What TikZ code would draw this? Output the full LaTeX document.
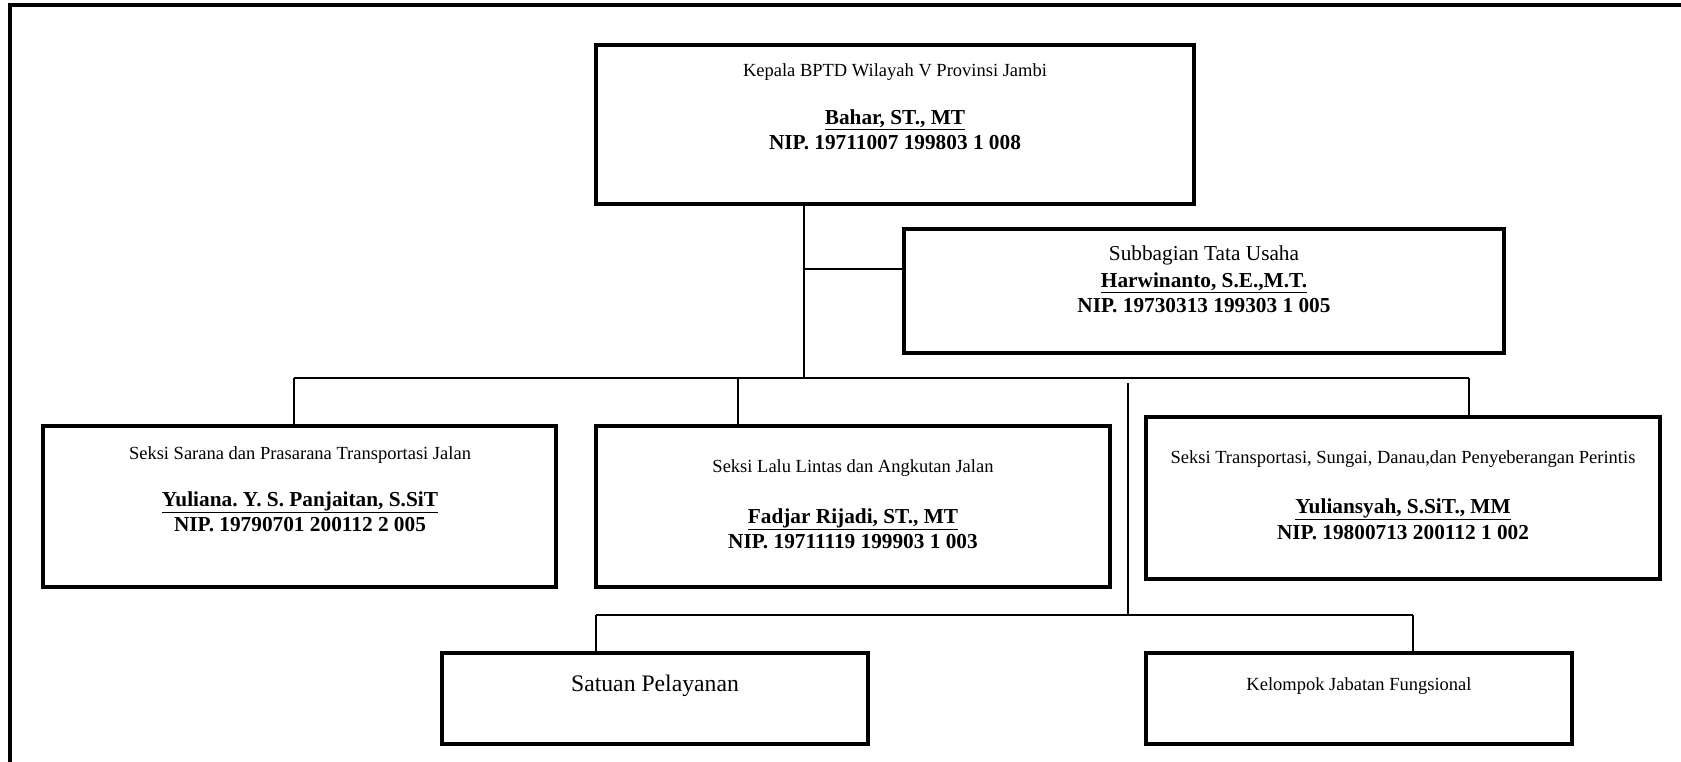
\documentclass[tikz,border=0pt]{standalone}
\usepackage{fontspec}
\setmainfont{Liberation Serif}
\frenchspacing
\begin{document}
\begin{tikzpicture}[x=1pt,y=-1pt,
  orgbox/.style={draw, line width=4.2pt, inner sep=0pt, outer sep=0pt, anchor=north west},
  link/.style={line width=1.3pt},
  frame/.style={line width=4.5pt},
  smalltxt/.style={inner sep=0pt, font=\fontsize{18.5}{22}\selectfont},
  midtxt/.style={inner sep=0pt, font=\fontsize{21.3}{25}\selectfont},
  boldtxt/.style={inner sep=0pt, font=\fontsize{21.3}{25}\selectfont\bfseries},
  bigtxt/.style={inner sep=0pt, font=\fontsize{23.7}{28}\selectfont}]
\useasboundingbox (0,0) rectangle (1681,761);
\fill[white] (0,0) rectangle (1681,761);
% outer frame
\draw[frame] (10,770) -- (10,5) -- (1690,5);
% boxes
\node[orgbox, minimum width=598pt, minimum height=159pt] (top) at (596,45) {};
\node[orgbox, minimum width=600pt, minimum height=124pt] (sub) at (904,229) {};
\node[orgbox, minimum width=513pt, minimum height=161pt] (b1) at (43,426) {};
\node[orgbox, minimum width=514pt, minimum height=161pt] (b2) at (596,426) {};
\node[orgbox, minimum width=514pt, minimum height=162pt] (b3) at (1146,417) {};
\node[orgbox, minimum width=426pt, minimum height=91pt] (sp) at (442,653) {};
\node[orgbox, minimum width=426pt, minimum height=91pt] (kjf) at (1146,653) {};
% texts
\node[smalltxt] (t1a) at (895,72) {Kepala BPTD Wilayah V Provinsi Jambi};
\node[boldtxt] (t1b) at (895,120) {\underline{Bahar, ST., MT}};
\node[boldtxt] (t1c) at (895,143) {NIP. 19711007 199803 1 008};
\node[midtxt] (t2a) at (1204,255) {Subbagian Tata Usaha};
\node[boldtxt] (t2b) at (1204,283) {\underline{Harwinanto, S.E.,M.T.}};
\node[boldtxt] (t2c) at (1204,306) {NIP. 19730313 199303 1 005};
\node[smalltxt] (t3a) at (300,455) {Seksi Sarana dan Prasarana Transportasi Jalan};
\node[boldtxt] (t3b) at (300,502) {\underline{Yuliana. Y. S. Panjaitan, S.SiT}};
\node[boldtxt] (t3c) at (300,525) {NIP. 19790701 200112 2 005};
\node[smalltxt] (t4a) at (853,468) {Seksi Lalu Lintas dan Angkutan Jalan};
\node[boldtxt] (t4b) at (853,519) {\underline{Fadjar Rijadi, ST., MT}};
\node[boldtxt] (t4c) at (853,542) {NIP. 19711119 199903 1 003};
\node[smalltxt] (t5a) at (1403,459) {Seksi Transportasi, Sungai, Danau,dan Penyeberangan Perintis};
\node[boldtxt] (t5b) at (1403,509) {\underline{Yuliansyah, S.SiT., MM}};
\node[boldtxt] (t5c) at (1403,533) {NIP. 19800713 200112 1 002};
\node[bigtxt] (t6) at (655,686) {Satuan Pelayanan};
\node[smalltxt] (t7) at (1359,686) {Kelompok Jabatan Fungsional};
% junction coordinates
\coordinate (j0) at (804,378);
\coordinate (j1) at (804,269);
\coordinate (bl) at (294,378);
\coordinate (bm) at (738,378);
\coordinate (br) at (1469,378);
\coordinate (j2) at (1128,383);
\coordinate (j3) at (1128,615);
\coordinate (cl) at (596,615);
\coordinate (cr) at (1413,615);
% connectors
\draw[link] (top.south -| j0) -- (j0);
\draw[link] (j1) -- (j1 -| sub.west);
\draw[link] (bl) -- (br);
\draw[link] (bl) -- (bl |- b1.north);
\draw[link] (bm) -- (bm |- b2.north);
\draw[link] (br) -- (br |- b3.north);
\draw[link] (j2) -- (j3);
\draw[link] (cl) -- (cr);
\draw[link] (cl) -- (cl |- sp.north);
\draw[link] (cr) -- (cr |- kjf.north);
\end{tikzpicture}
\end{document}
